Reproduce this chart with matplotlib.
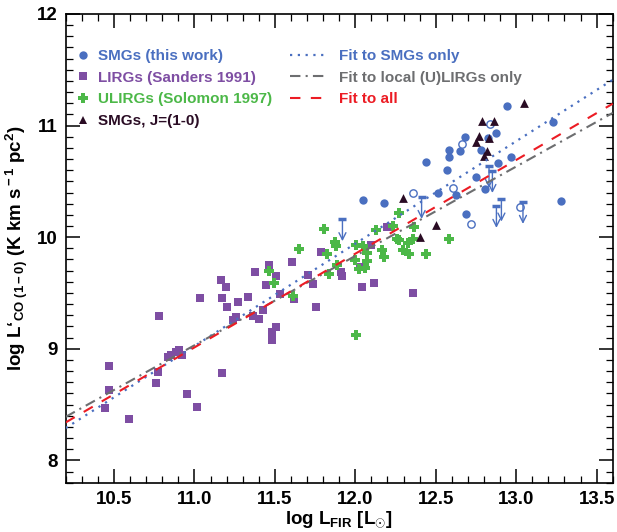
import matplotlib
matplotlib.use("Agg")
import matplotlib.pyplot as plt
from matplotlib.lines import Line2D
from matplotlib.ticker import MultipleLocator
import numpy as np

# Helvetica風の太字
plt.rcParams['font.family'] = ['Liberation Sans', 'DejaVu Sans']
plt.rcParams['font.weight'] = 'bold'
plt.rcParams['mathtext.fontset'] = 'custom'
plt.rcParams['mathtext.rm'] = 'Liberation Sans:bold'
plt.rcParams['mathtext.it'] = 'Liberation Sans:bold'
plt.rcParams['mathtext.bf'] = 'Liberation Sans:bold'

# SMGs (this work) -- filled circles
smg_x = [12.941, 13.228, 12.877, 12.680, 12.825, 12.581, 12.649, 12.581, 12.784, 12.439,
         12.887, 12.966, 12.567, 12.753, 12.804, 12.511, 12.625, 12.178, 13.276, 12.687, 12.046]
smg_y = [11.175, 11.030, 10.931, 10.901, 10.886, 10.782, 10.773, 10.722, 10.782, 10.677,
         10.668, 10.716, 10.603, 10.543, 10.432, 10.399, 10.379, 10.304, 10.325, 10.206, 10.334]
# SMGs (this work) -- open circles
smg_open_x = [12.835, 12.660, 12.608, 12.360, 12.718, 13.021]
smg_open_y = [11.014, 10.835, 10.444, 10.399, 10.122, 10.274]
# SMGs (this work) -- upper limits
lim_x = [12.831, 12.852, 12.412, 12.877, 12.908, 13.042, 11.920]
lim_y = [10.641, 10.596, 10.363, 10.283, 10.340, 10.319, 10.164]
lim_len = 0.2

# SMGs, J=(1-0)
j10_x = [13.048, 12.790, 12.860, 12.769, 12.829, 12.753, 12.819, 12.800, 12.298, 12.501, 12.401]
j10_y = [11.205, 11.044, 11.041, 10.910, 10.892, 10.856, 10.773, 10.728, 10.355, 10.110, 10.005]

# ULIRGs (Solomon 1997)
ulirg_x = [12.273, 11.808, 12.129, 12.232, 12.364, 11.874, 11.879, 11.653, 12.005, 12.050,
           12.257, 12.273, 12.329, 12.356, 12.581, 12.166, 12.180, 12.294, 12.335, 12.439,
           11.827, 11.998, 12.075, 12.071, 12.060, 12.025, 11.885, 11.839, 11.496, 11.612,
           12.003, 11.465]
ulirg_y = [10.215, 10.072, 10.065, 10.101, 10.090, 9.961, 9.922, 9.898, 9.931, 9.922,
           9.985, 9.976, 9.952, 9.982, 9.982, 9.884, 9.826, 9.886, 9.851, 9.848,
           9.848, 9.797, 9.857, 9.790, 9.722, 9.714, 9.752, 9.671, 9.588, 9.477,
           9.123, 9.698]

# LIRGs (Sanders 1991)
lirg_x = [12.195, 12.098, 11.786, 11.606, 12.029, 11.912, 11.918, 11.705, 11.740, 11.509,
          12.118, 12.044, 12.356, 11.529, 11.622, 11.755, 11.509, 11.482, 11.461, 11.374,
          11.442, 11.163, 11.194, 11.033, 11.170, 11.331, 11.269, 11.201, 11.424, 11.364,
          11.399, 11.261, 11.240, 10.779, 11.480, 10.883, 10.903, 10.852, 10.837, 10.920,
          10.469, 10.773, 11.170, 10.760, 10.469, 10.953, 10.444, 11.015, 10.593]
lirg_y = [10.090, 9.931, 9.868, 9.779, 9.737, 9.687, 9.654, 9.662, 9.579, 9.654,
          9.588, 9.555, 9.499, 9.492, 9.448, 9.373, 9.191, 9.149, 9.749, 9.687,
          9.570, 9.615, 9.552, 9.454, 9.454, 9.463, 9.418, 9.373, 9.349, 9.295,
          9.271, 9.284, 9.260, 9.293, 9.081, 8.973, 8.991, 8.946, 8.926, 8.946,
          8.845, 8.791, 8.782, 8.693, 8.630, 8.594, 8.469, 8.478, 8.371]

# フィット (slope, intercept)
fit_smg = (0.918, -1.074)
fit_local = (0.801, 0.220)
fit_all = (0.840, -0.228)

xlim = (10.2, 13.6)
ylim = (7.8, 12.0)

c_blue = '#4a6fc0'
c_purple = '#7e4ea3'
c_green = '#4cb848'
c_dark = '#2a0c24'
c_red = '#ec1c24'
c_gray = '#6d6e70'

fig = plt.figure(figsize=(6.17, 5.32), dpi=100)
ax = fig.add_axes([0.1065, 0.0927, 0.8866, 0.8810])

ax.scatter(lirg_x, lirg_y, marker='s', s=28, color=c_purple, lw=0, zorder=2)
ax.scatter(ulirg_x, ulirg_y, marker='P', s=52, color=c_green, lw=0, zorder=2)
ax.scatter(smg_x, smg_y, marker='o', s=36, color=c_blue, lw=0, zorder=3)
ax.scatter(smg_open_x, smg_open_y, marker='o', s=28, facecolor='white', edgecolor=c_blue, lw=1.0, zorder=3)
ax.scatter(j10_x, j10_y, marker='^', s=40, color=c_dark, lw=0, zorder=4)

# 上限値 (bar + arrow)
ax.plot(lim_x, lim_y, ls='none', marker='_', ms=5.5, mew=2.5, color=c_blue, zorder=4)
for x, y in zip(lim_x, lim_y):
    ax.annotate('', xy=(x, y - lim_len), xytext=(x, y),
                arrowprops=dict(arrowstyle='->,head_length=0.5,head_width=0.25',
                                color=c_blue, lw=1.0, shrinkA=0, shrinkB=0), zorder=4)

xx = np.array(xlim)
ax.plot(xx, fit_smg[0] * xx + fit_smg[1], ls=(0, (1, 2.5)), lw=1.6, color=c_blue, zorder=5)
ax.plot(xx, fit_local[0] * xx + fit_local[1], ls=(0, (5, 2.5, 1, 2.5)), lw=1.5, color=c_gray, zorder=5)
ax.plot(xx, fit_all[0] * xx + fit_all[1], ls=(0, (5, 5)), lw=1.5, color=c_red, zorder=5)

ax.set_xlim(xlim)
ax.set_ylim(ylim)
ax.xaxis.set_major_locator(MultipleLocator(0.5))
ax.xaxis.set_minor_locator(MultipleLocator(0.1))
ax.yaxis.set_major_locator(MultipleLocator(1))
ax.yaxis.set_minor_locator(MultipleLocator(0.1))
ax.xaxis.set_major_formatter(matplotlib.ticker.FormatStrFormatter('%.1f'))
ax.tick_params(which='both', direction='in', top=True, right=True, labelsize=13.5, pad=6)
ax.tick_params(which='major', length=10, width=1.1)
ax.tick_params(which='minor', length=5, width=0.9)
for lbl in ax.get_xticklabels() + ax.get_yticklabels():
    lbl.set_fontweight('bold')
for s in ax.spines.values():
    s.set_linewidth(1.2)

ax.set_xlabel(r"log L$_{\rm FIR}$ [L$_{\odot}$]", fontsize=13.5, fontweight='bold', labelpad=1)
ax.set_ylabel(r"log L‘$_{\rm CO\ (1-0)}$ (K km s$^{\rm -1}$ pc$^{\rm 2}$)", fontsize=13.5,
              fontweight='bold', labelpad=5)

# 凡例
h1 = [Line2D([], [], ls='none', marker='o', ms=6, color=c_blue, mew=0),
      Line2D([], [], ls='none', marker='s', ms=5.3, color=c_purple, mew=0),
      Line2D([], [], ls='none', marker='P', ms=7, color=c_green, mew=0),
      Line2D([], [], ls='none', marker='^', ms=6.3, color=c_dark, mew=0)]
l1 = ['SMGs (this work)', 'LIRGs (Sanders 1991)', 'ULIRGs (Solomon 1997)', 'SMGs, J=(1-0)']
leg1 = ax.legend(h1, l1, loc='upper left', bbox_to_anchor=(0.018, 0.925), frameon=False,
                 prop={'size': 11, 'weight': 'bold'}, labelcolor=[c_blue, c_purple, c_green, c_dark],
                 handlelength=1.0, handletextpad=0.5, labelspacing=0.5, borderpad=0, borderaxespad=0)
ax.add_artist(leg1)

h2 = [Line2D([], [], ls=(0, (1, 2.5)), lw=1.6, color=c_blue),
      Line2D([], [], ls=(0, (5, 2.5, 1, 2.5)), lw=1.5, color=c_gray),
      Line2D([], [], ls=(0, (5, 5)), lw=1.5, color=c_red)]
l2 = ['Fit to SMGs only', 'Fit to local (U)LIRGs only', 'Fit to all']
ax.legend(h2, l2, loc='upper left', bbox_to_anchor=(0.41, 0.925), frameon=False,
          prop={'size': 11, 'weight': 'bold'}, labelcolor=[c_blue, c_gray, c_red],
          handlelength=2.2, handletextpad=1.0, labelspacing=0.5, borderpad=0, borderaxespad=0)

fig.savefig("out.png", dpi=100)
